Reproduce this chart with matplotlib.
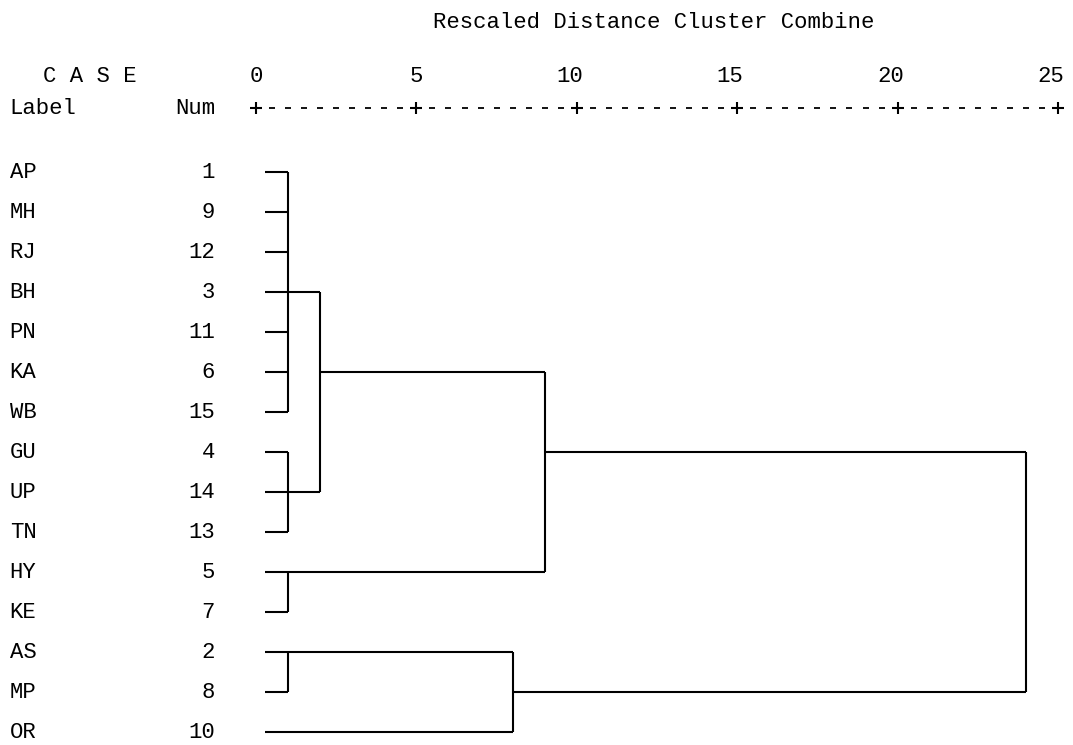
import matplotlib.pyplot as plt

# case labels and numbers, in the order they are listed (top to bottom)
labels = ['AP', 'MH', 'RJ', 'BH', 'PN', 'KA', 'WB', 'GU', 'UP', 'TN', 'HY', 'KE', 'AS', 'MP', 'OR']
nums = [1, 9, 12, 3, 11, 6, 15, 4, 14, 13, 5, 7, 2, 8, 10]

# merges: children (leaf row index or earlier cluster id) and rescaled distance
merge_children = [
    [0, 1, 2, 3, 4, 5, 6],   # c15
    [7, 8, 9],               # c16
    [10, 11],                # c17
    [12, 13],                # c18
    [15, 16],                # c19
    [19, 17],                # c20
    [18, 14],                # c21
    [20, 21],                # c22
]
merge_heights = [1, 1, 1, 1, 2, 9, 8, 24]

ticks = [0, 5, 10, 15, 20, 25]

plt.rcParams['font.family'] = ['Liberation Mono', 'DejaVu Sans Mono']
FS = 16

# pixel calibration of the reference: x=0 at 256px, 32.08px per unit; row 0 at 172px, 40px per row
W, H = 1073, 745
x0, dx = 256, 32.08
y0, dy = 172, 40

fig = plt.figure(figsize=(W / 100, H / 100), dpi=100)
ax = fig.add_axes([0, 0, 1, 1])
ax.set_xlim(-x0 / dx, (W - x0) / dx)
ax.set_ylim((H - y0) / dy, -y0 / dy)
ax.axis('off')

leaf_start = 0.28
n = len(labels)
row = {i: i for i in range(n)}
xpos = {i: leaf_start for i in range(n)}

for k, (ch, h) in enumerate(zip(merge_children, merge_heights)):
    cid = n + k
    rows = [row[c] for c in ch]
    for c in ch:
        ax.plot([xpos[c], h], [row[c], row[c]], color='black', lw=1.5, solid_capstyle='butt')
    ax.plot([h, h], [min(rows), max(rows)], color='black', lw=1.5, solid_capstyle='butt')
    row[cid] = (rows[0] + rows[-1]) // 2
    xpos[cid] = h

# case labels and numbers
for i, (lab, num) in enumerate(zip(labels, nums)):
    ax.text(-7.68, i, lab, fontsize=FS, va='center', ha='left')
    ax.text(-1.28, i, str(num), fontsize=FS, va='center', ha='right')

# header
ax.text(12.4, -3.75, 'Rescaled Distance Cluster Combine', fontsize=FS, va='center', ha='center')
ax.text(-6.65, -2.4, 'C A S E', fontsize=FS, va='center', ha='left')
ax.text(-7.68, -1.6, 'Label', fontsize=FS, va='center', ha='left')
ax.text(-1.28, -1.6, 'Num', fontsize=FS, va='center', ha='right')

for t in ticks:
    ax.text(t + (0 if t < 10 else 0.2), -2.4, str(t), fontsize=FS, va='center',
            ha='center' if t < 10 else 'right')

# ruler made of + and - characters
ax.plot(ticks, [-1.6] * len(ticks), ls='none', marker='+', ms=9, mew=1.5, color='black')
dashes = [t + j * 0.5 for t in ticks[:-1] for j in range(1, 10)]
ax.plot(dashes, [-1.6] * len(dashes), ls='none', marker='_', ms=5, mew=1.3, color='black')

fig.savefig('out.png', dpi=100)
